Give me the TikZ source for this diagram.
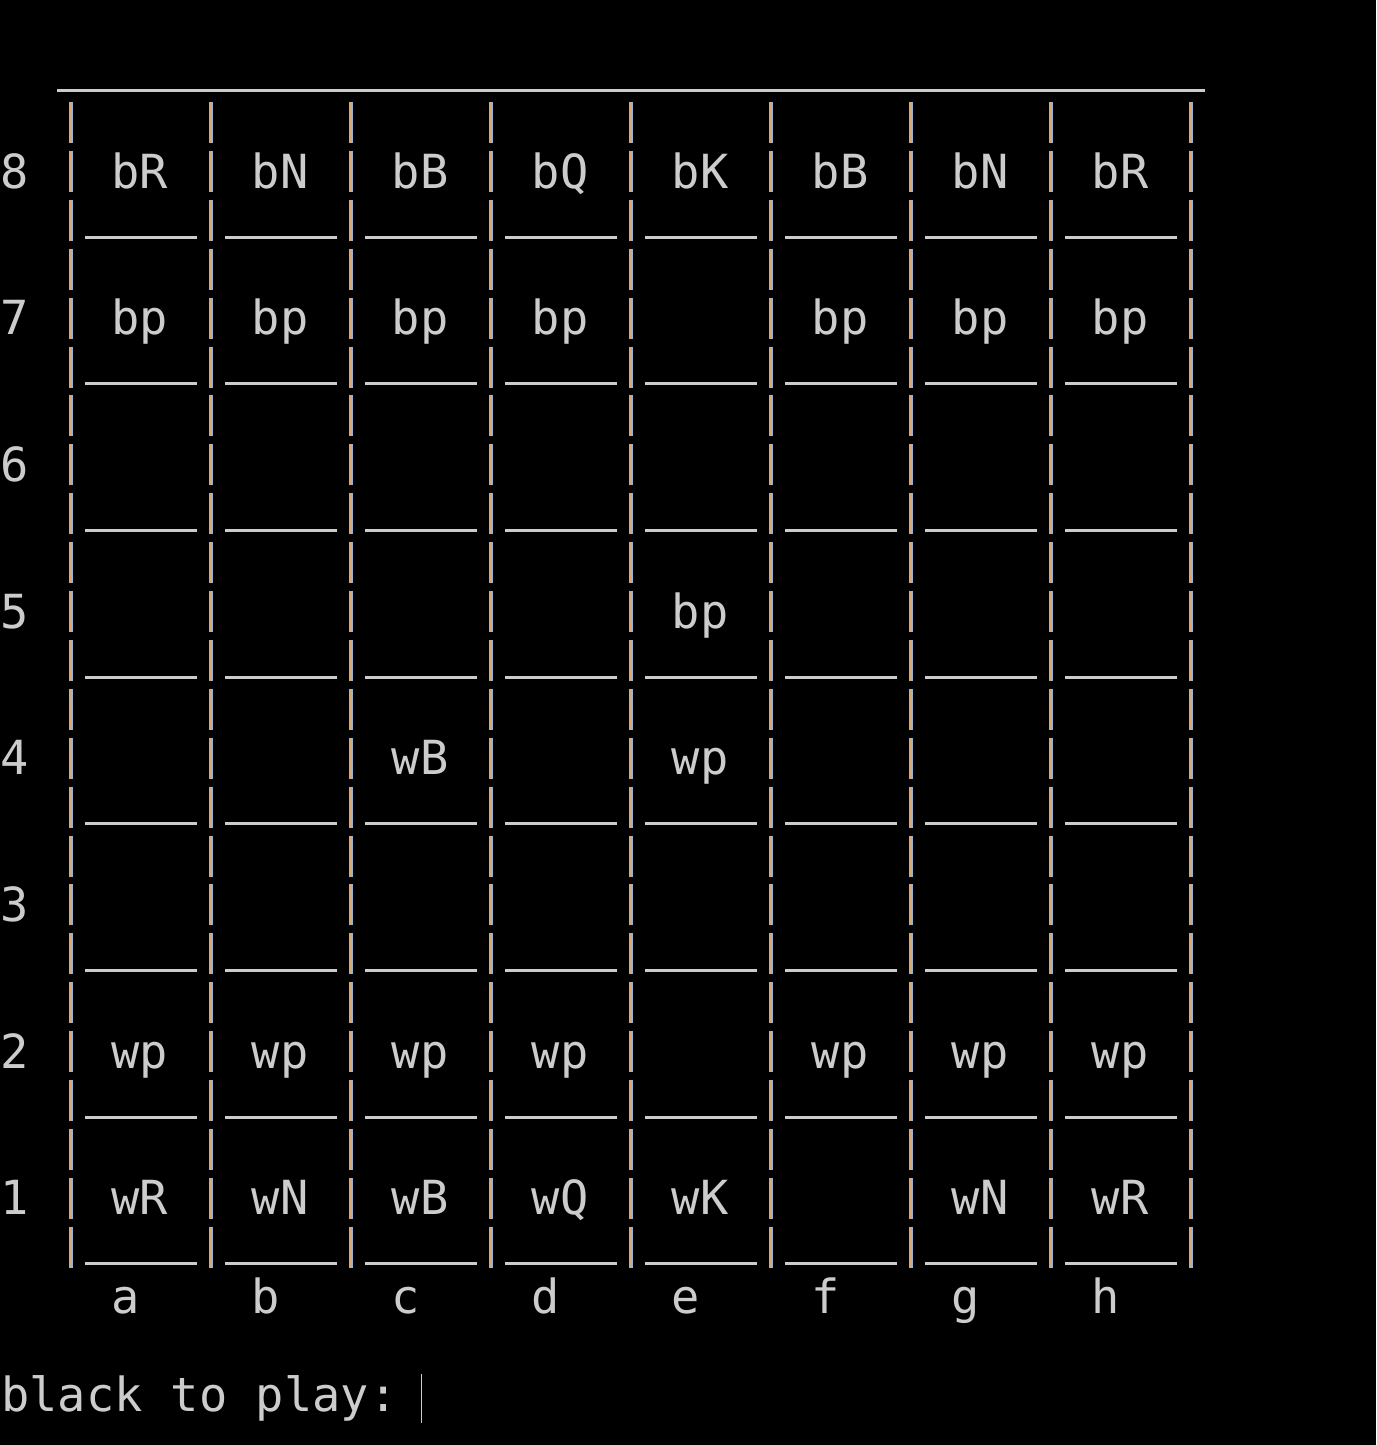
\documentclass[tikz,border=0pt]{standalone}
\usepackage{fontspec}
\setmonofont{DejaVu Sans Mono}

\definecolor{termgrey}{RGB}{204,204,204}
\definecolor{bartan}{RGB}{218,168,116}
\definecolor{barblue}{RGB}{150,178,212}

\tikzset{
  termtext/.style = {inner sep=0pt, text=termgrey, font=\ttfamily\fontsize{47}{56}\selectfont},
  piece/.style = {termtext, anchor=base},
  underline/.style = {draw=termgrey, line width=3pt},
  bartanline/.style = {draw=bartan, line width=2.4pt},
  barblueline/.style = {draw=barblue, line width=1pt}
}

\begin{document}
\begin{tikzpicture}[x=1pt, y=-1pt]
    \fill[black] (0,0) rectangle (1376,1445);
    \useasboundingbox (0,0) rectangle (1376,1445);

    % top edge of the board
    \draw[underline] (57,90.5) -- (1205,90.5);

    % vertical bars, three per rank
    \foreach \j in {0,...,8}
      \foreach \k in {0,...,23} {
        \draw[bartanline] ({70.6+140*\j},{102+48.9*\k}) -- ++(0,41);
        \draw[barblueline] ({72.4+140*\j},{102+48.9*\k}) -- ++(0,41);
      }

    % square bottoms
    \foreach \m in {0,...,7}
      \foreach \i in {0,...,7}
        \draw[underline] ({85+140*\i},{237+146.7*\m}) -- ++(112,0);

    % rank and file labels
    \foreach \r in {1,...,8}
      \node[piece] (rank\r) at (15,{188+146.7*(8-\r)}) {\r};
    \foreach \f [count=\i from 0] in {a,b,c,d,e,f,g,h}
      \node[piece] (file\f) at ({126+140*\i},1313) {\f};

    % black pieces
    \node[piece] (a8) at (140,188) {bR};
    \node[piece] (b8) at (280,188) {bN};
    \node[piece] (c8) at (420,188) {bB};
    \node[piece] (d8) at (560,188) {bQ};
    \node[piece] (e8) at (700,188) {bK};
    \node[piece] (f8) at (840,188) {bB};
    \node[piece] (g8) at (980,188) {bN};
    \node[piece] (h8) at (1120,188) {bR};

    \node[piece] (a7) at (140,334.7) {bp};
    \node[piece] (b7) at (280,334.7) {bp};
    \node[piece] (c7) at (420,334.7) {bp};
    \node[piece] (d7) at (560,334.7) {bp};
    \node[piece] (f7) at (840,334.7) {bp};
    \node[piece] (g7) at (980,334.7) {bp};
    \node[piece] (h7) at (1120,334.7) {bp};

    \node[piece] (e5) at (700,628.1) {bp};

    % white pieces
    \node[piece] (c4) at (420,774.8) {wB};
    \node[piece] (e4) at (700,774.8) {wp};

    \node[piece] (a2) at (140,1068.2) {wp};
    \node[piece] (b2) at (280,1068.2) {wp};
    \node[piece] (c2) at (420,1068.2) {wp};
    \node[piece] (d2) at (560,1068.2) {wp};
    \node[piece] (f2) at (840,1068.2) {wp};
    \node[piece] (g2) at (980,1068.2) {wp};
    \node[piece] (h2) at (1120,1068.2) {wp};

    \node[piece] (a1) at (140,1214.9) {wR};
    \node[piece] (b1) at (280,1214.9) {wN};
    \node[piece] (c1) at (420,1214.9) {wB};
    \node[piece] (d1) at (560,1214.9) {wQ};
    \node[piece] (e1) at (700,1214.9) {wK};
    \node[piece] (g1) at (980,1214.9) {wN};
    \node[piece] (h1) at (1120,1214.9) {wR};

    % prompt line
    \node[termtext, anchor=base west] (prompt) at (1,1411.7) {black to play:};
    \draw[draw=termgrey, line width=1.5pt] (421.5,1374) -- (421.5,1423);

\end{tikzpicture}
\end{document}
